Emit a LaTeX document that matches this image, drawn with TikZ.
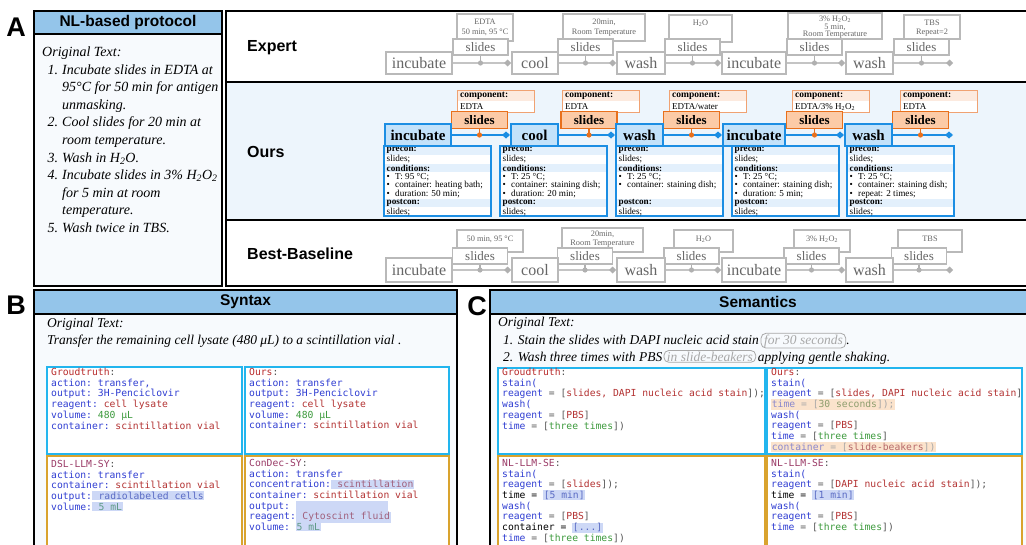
\documentclass[tikz,border=0pt]{standalone}
\usepackage{fontspec}
\setmainfont{Liberation Serif}
\setsansfont{Liberation Sans}
\setmonofont{DejaVu Sans Mono}
\usetikzlibrary{arrows.meta,calc}
\definecolor{hdrblue}{HTML}{94C5EA}
\definecolor{panelbg}{HTML}{F7FAFD}
\definecolor{oursbg}{HTML}{EDF5FC}
\definecolor{gbord}{HTML}{B9B9B9}
\definecolor{gtext}{HTML}{666666}
\definecolor{gline}{HTML}{C4C4C4}
\definecolor{gdot}{HTML}{B0B0B0}
\definecolor{oblue}{HTML}{1C8EE3}
\definecolor{stepfill}{HTML}{C3E2FA}
\definecolor{detrow}{HTML}{E3F0FC}
\definecolor{odark}{HTML}{E8701C}
\definecolor{ofill}{HTML}{FCCBA7}
\definecolor{compline}{HTML}{F0A272}
\definecolor{compfill}{HTML}{FCEADF}
\definecolor{cyanb}{HTML}{22B5EE}
\definecolor{goldb}{HTML}{D9A32E}
\definecolor{ckey}{HTML}{2F3DD2}
\definecolor{cred}{HTML}{B33232}
\definecolor{cgreen}{HTML}{3C9A3C}
\definecolor{clab}{HTML}{B82A2A}
\definecolor{cpur}{HTML}{9A3A66}
\definecolor{cgray}{HTML}{555555}
\definecolor{hlblue}{HTML}{CDD8F6}
\definecolor{hlorange}{HTML}{FBE3CC}
\definecolor{mblue}{HTML}{5A6BC4}
\definecolor{mred}{HTML}{A0607C}
\definecolor{mgreen}{HTML}{5E9A86}
\definecolor{oblueM}{HTML}{8A88CC}
\definecolor{ogreenM}{HTML}{8E9E6E}
\definecolor{oredM}{HTML}{B76A6A}
\definecolor{pillg}{HTML}{A8A8A8}
\newcommand\FSz[2]{\fontsize{#1}{#2}\selectfont}
\newcommand\codefont{\fontsize{9.7}{10.7}\selectfont\ttfamily\lineskiplimit=-20pt\lineskip=0pt\relax}
\newcommand\Ky[1]{\textcolor{ckey}{#1}}
\newcommand\Rd[1]{\textcolor{cred}{#1}}
\newcommand\Gn[1]{\textcolor{cgreen}{#1}}
\newcommand\Lb[1]{\textcolor{clab}{#1}}
\newcommand\Pu[1]{\textcolor{cpur}{#1}}
\newcommand\Gy[1]{\textcolor{cgray}{#1}}
\newcommand\EqB{\Gy{\ = [}}
\newcommand\HLb[1]{{\setlength{\fboxsep}{0.7pt}\colorbox{hlblue}{#1}}}
\newcommand\HLo[1]{{\setlength{\fboxsep}{0.7pt}\colorbox{hlorange}{#1}}}
\newcommand\Bul[1]{\makebox[8.5pt][l]{\textbullet}#1}
\newcommand\DetBox[5]{%
  \fill[white] (#1,146) rectangle ++(107,70);
  \fill[detrow] (#1,146) rectangle ++(107,8.75);
  \fill[detrow] (#1,163.5) rectangle ++(107,8.75);
  \fill[detrow] (#1,198.5) rectangle ++(107,8.75);
  \draw[detbord] (#1,146) rectangle ++(107,70);
  \node[dett] (#2r1) at (#1+2.5,150.6) {\textbf{precon:}};
  \node[dett] (#2r2) at (#1+2.5,159.3) {slides;};
  \node[dett] (#2r3) at (#1+2.5,168.1) {\textbf{conditions:}};
  \node[dett] (#2r4) at (#1+2.5,176.8) {#3};
  \node[dett] (#2r5) at (#1+2.5,185.6) {#4};
  \node[dett] (#2r6) at (#1+2.5,194.3) {#5};
  \node[dett] (#2r7) at (#1+2.5,203.1) {\textbf{postcon:}};
  \node[dett] (#2r8) at (#1+2.5,211.8) {slides;};
}
\newcommand\OComp[3]{% x1, name, value
  \fill[white] (#1,90) rectangle ++(77,22);
  \fill[compfill] (#1,90) rectangle ++(77,11);
  \draw[ocompbox] (#1,90) rectangle ++(77,22);
  \node[anchor=west,inner sep=0pt,font=\bfseries\FSz{9.5}{10}] (#2h) at (#1+3,96) {component:};
  \node[anchor=west,inner sep=0pt,font=\FSz{9}{10}] (#2v) at (#1+3,107) {#3};
}
\newcommand\SDot[3]{% slides node, step node, colour
  \draw[#3,line width=1.2pt] (#1.south) -- (#1.south |- #2.center);
  \fill[#3] (#1.south |- #2.center) circle (2.6pt);
}
\begin{document}
\begin{tikzpicture}[x=1pt,y=-1pt,
  panel/.style={draw=black,line width=1.5pt},
  hdrtext/.style={font=\sffamily\bfseries\FSz{15.5}{18},inner sep=0pt},
  letter/.style={font=\sffamily\bfseries\FSz{27}{30},inner sep=0pt},
  rowlabel/.style={font=\sffamily\bfseries\FSz{16}{18},anchor=west,inner sep=0pt},
  gstep/.style={draw=gbord,line width=1.8pt,fill=white,text=gtext,font=\FSz{16}{18},minimum height=22pt,inner xsep=2pt,inner ysep=0pt},
  gslides/.style={draw=gbord,line width=1.4pt,fill=white,text=gtext,font=\FSz{13}{15},minimum height=16pt,minimum width=55pt,inner sep=0pt},
  gcompbox/.style={draw=gbord,line width=1.3pt,fill=white},
  gcomptxt/.style={text=gtext,font=\FSz{8.3}{9.5},align=center,inner sep=0pt,anchor=north},
  glink/.style={draw=gline,line width=1.4pt,-{Diamond[length=7pt,width=7pt,color=gdot]}},
  ostep/.style={draw=oblue,line width=2pt,fill=stepfill,font=\bfseries\FSz{15}{17},minimum height=22pt,inner xsep=2pt,inner ysep=0pt},
  oslides/.style={draw=odark,line width=1.6pt,fill=ofill,font=\bfseries\FSz{13}{15},minimum height=17pt,minimum width=56pt,inner sep=0pt},
  ocompbox/.style={draw=compline,line width=1pt},
  olink/.style={draw=oblue,line width=1.4pt,-{Diamond[length=8pt,width=7pt]}},
  detbord/.style={draw=oblue,line width=1.1pt},
  dett/.style={anchor=west,inner sep=0pt,font=\FSz{9.2}{9.5}},
  origA/.style={font=\itshape\FSz{14}{17.6},align=left,inner sep=0pt,anchor=north west},
  orig/.style={font=\itshape\FSz{13.5}{17},inner sep=0pt,anchor=base west},
  pill/.style={draw=pillg,line width=0.8pt,rounded corners=5pt,text=pillg,font=\itshape\FSz{13.5}{17},inner xsep=3pt,inner ysep=1.2pt,anchor=base west},
  cyanbox/.style={draw=cyanb,line width=1.5pt,fill=white},
  goldbox/.style={draw=goldb,line width=1.5pt,fill=white},
  codetxt/.style={font=\codefont,align=left,inner sep=0pt,anchor=north west}
]
\useasboundingbox (0,0) rectangle (1026,544);
\clip (0,0) rectangle (1026,544);
\fill[white] (0,0) rectangle (1026,544);

% ---------------- Panel A ----------------
\node[letter] (lA) at (16,27.5) {A};
\draw[panel,fill=panelbg] (34,11) rectangle (222,286);
\draw[panel,fill=hdrblue] (34,11) rectangle (222,34);
\node[hdrtext] (hA) at (128,22.5) {NL-based protocol};
\node[origA] (tA) at (42,46.5) {Original Text:\\
\makebox[16pt][r]{1.}\hspace{4pt}Incubate slides in EDTA at\\
\hspace*{20pt}95°C for 50 min for antigen\\
\hspace*{20pt}unmasking.\\
\makebox[16pt][r]{2.}\hspace{4pt}Cool slides for 20 min at\\
\hspace*{20pt}room temperature.\\
\makebox[16pt][r]{3.}\hspace{4pt}Wash in H\textsubscript{2}O.\\
\makebox[16pt][r]{4.}\hspace{4pt}Incubate slides in 3\% H\textsubscript{2}O\textsubscript{2}\\
\hspace*{20pt}for 5 min at room\\
\hspace*{20pt}temperature.\\
\makebox[16pt][r]{5.}\hspace{4pt}Wash twice in TBS.};

% right framed area
\fill[white] (226,11) rectangle (1028,286);
\fill[oursbg] (226,82) rectangle (1028,220);
\draw[panel] (226,11) rectangle (1028,286);
\draw[panel] (226,82) -- (1028,82);
\draw[panel] (226,220) -- (1028,220);
\node[rowlabel] (lExp) at (247,48) {Expert};
\node[rowlabel] (lOurs) at (247,152) {Ours};
\node[rowlabel] (lBB) at (247,254) {Best-Baseline};

% ---------------- Expert row ----------------
\draw[gcompbox] (457,14) rectangle (513,41);
\node[gcomptxt] (ec1) at (485,19) {EDTA\\50 min, 95 °C};
\draw[gcompbox] (563,14) rectangle (645,41);
\node[gcomptxt] (ec2) at (604,19) {20min,\\Room Temperature};
\draw[gcompbox] (669,15) rectangle (732,42);
\node[gcomptxt] (ec3) at (700.5,19.5) {H\textsubscript{2}O};
\draw[gcompbox] (788,13) rectangle (882,39);
\node[gcomptxt,font=\FSz{8.3}{7.3}] (ec4) at (835,16) {3\% H\textsubscript{2}O\textsubscript{2}\\5 min,\\Room Temperature};
\draw[gcompbox] (904,15) rectangle (960,39);
\node[gcomptxt] (ec5) at (932,19.5) {TBS\\Repeat=2};

\node[gslides] (es1) at (480.5,47) {slides};
\node[gslides] (es2) at (585.5,47) {slides};
\node[gslides] (es3) at (692.5,47) {slides};
\node[gslides] (es4) at (814.5,47) {slides};
\node[gslides] (es5) at (921.5,47) {slides};

\node[gstep,minimum width=66pt] (e1) at (419,63) {incubate};
\node[gstep,minimum width=46pt] (e2) at (535,63) {cool};
\node[gstep,minimum width=48pt] (e3) at (641,63) {wash};
\node[gstep,minimum width=64pt] (e4) at (754,63) {incubate};
\node[gstep,minimum width=47pt] (e5) at (869.5,63) {wash};
\coordinate (eend) at (953,63);
\draw[glink] (e1) -- (e2);
\draw[glink] (e2) -- (e3);
\draw[glink] (e3) -- (e4);
\draw[glink] (e4) -- (e5);
\draw[glink] (e5) -- (eend);
\SDot{es1}{e1}{gdot}
\SDot{es2}{e1}{gdot}
\SDot{es3}{e1}{gdot}
\SDot{es4}{e1}{gdot}
\SDot{es5}{e1}{gdot}

% ---------------- Ours row ----------------
\OComp{457}{oc1}{EDTA}
\OComp{562}{oc2}{EDTA}
\OComp{669}{oc3}{EDTA/water}
\OComp{792}{oc4}{EDTA/3\% H\textsubscript{2}O\textsubscript{2}}
\OComp{900}{oc5}{EDTA}

\node[oslides] (os1) at (479.5,120) {slides};
\node[oslides] (os2) at (589,120) {slides};
\node[oslides] (os3) at (691.5,120) {slides};
\node[oslides] (os4) at (814.5,120) {slides};
\node[oslides] (os5) at (920.5,120) {slides};

\DetBox{384}{d1}{\Bul{T: 95 °C;}}{\Bul{container: heating bath;}}{\Bul{duration: 50 min;}}
\DetBox{500}{d2}{\Bul{T: 25 °C;}}{\Bul{container: staining dish;}}{\Bul{duration: 20 min;}}
\DetBox{616}{d3}{\Bul{T: 25 °C;}}{\Bul{container: staining dish;}}{}
\DetBox{732}{d4}{\Bul{T: 25 °C;}}{\Bul{container: staining dish;}}{\Bul{duration: 5 min;}}
\DetBox{847}{d5}{\Bul{T: 25 °C;}}{\Bul{container: staining dish;}}{\Bul{repeat: 2 times;}}

\node[ostep,minimum width=66pt] (o1) at (418,135) {incubate};
\node[ostep,minimum width=47pt] (o2) at (534.5,135) {cool};
\node[ostep,minimum width=47pt] (o3) at (639.5,135) {wash};
\node[ostep,minimum width=62pt] (o4) at (754,135) {incubate};
\node[ostep,minimum width=47pt] (o5) at (868.5,135) {wash};
\coordinate (oend) at (953,135);
\draw[olink] (o1) -- (o2);
\draw[olink] (o2) -- (o3);
\draw[olink] (o3) -- (o4);
\draw[olink] (o4) -- (o5);
\draw[olink] (o5) -- (oend);
\SDot{os1}{o1}{odark}
\SDot{os2}{o1}{odark}
\SDot{os3}{o1}{odark}
\SDot{os4}{o1}{odark}
\SDot{os5}{o1}{odark}

% ---------------- Best-Baseline row ----------------
\draw[gcompbox] (457,230) rectangle (523,252);
\node[gcomptxt] (bc1) at (490,235.5) {50 min, 95 °C};
\draw[gcompbox] (562,228) rectangle (643,252);
\node[gcomptxt] (bc2) at (602.5,230.5) {20min,\\Room Temperature};
\draw[gcompbox] (674,230) rectangle (733,252);
\node[gcomptxt] (bc3) at (703.5,235.5) {H\textsubscript{2}O};
\draw[gcompbox] (794,230) rectangle (850,252);
\node[gcomptxt] (bc4) at (822,235.5) {3\% H\textsubscript{2}O\textsubscript{2}};
\draw[gcompbox] (898,230) rectangle (962,252);
\node[gcomptxt] (bc5) at (930,235.5) {TBS};

\node[gslides] (bs1) at (480,256) {slides};
\node[gslides] (bs2) at (585,256) {slides};
\node[gslides] (bs3) at (691.5,256) {slides};
\node[gslides] (bs4) at (811.5,256) {slides};
\node[gslides] (bs5) at (919,256) {slides};

\node[gstep,minimum width=66pt,minimum height=24pt] (b1) at (419,270) {incubate};
\node[gstep,minimum width=46pt,minimum height=24pt] (b2) at (535,270) {cool};
\node[gstep,minimum width=48pt,minimum height=24pt] (b3) at (641,270) {wash};
\node[gstep,minimum width=64pt,minimum height=24pt] (b4) at (754,270) {incubate};
\node[gstep,minimum width=47pt,minimum height=24pt] (b5) at (869.5,270) {wash};
\coordinate (bend) at (953,270);
\draw[glink] (b1) -- (b2);
\draw[glink] (b2) -- (b3);
\draw[glink] (b3) -- (b4);
\draw[glink] (b4) -- (b5);
\draw[glink] (b5) -- (bend);
\SDot{bs1}{b1}{gdot}
\SDot{bs2}{b1}{gdot}
\SDot{bs3}{b1}{gdot}
\SDot{bs4}{b1}{gdot}
\SDot{bs5}{b1}{gdot}

% ---------------- Panel B ----------------
\node[letter] (lB) at (16,305) {B};
\draw[panel,fill=panelbg] (34,290) rectangle (457,550);
\draw[panel,fill=hdrblue] (34,290) rectangle (457,314);
\node[hdrtext] (hB) at (245.5,302) {Syntax};
\node[orig] (tB1) at (47,327) {Original Text:};
\node[orig] (tB2) at (47,344) {Transfer the remaining cell lysate (480 μL) to a scintillation vial .};
\draw[cyanbox] (47,367) rectangle (242,454);
\draw[cyanbox] (245,367) rectangle (449,454);
\draw[goldbox] (47,456) rectangle (242,550);
\draw[goldbox] (245,456) rectangle (449,550);
\node[codetxt] (bgt) at (51,368) {\Lb{Groudtruth}\Gy{:}\\
\Ky{action: transfer,}\\
\Ky{output: 3H-Penciclovir}\\
\Ky{reagent:} \Rd{cell lysate}\\
\Ky{volume:} \Gn{480 μL}\\
\Ky{container:} \Rd{scintillation vial}};
\node[codetxt] (bours) at (249,368) {\Lb{Ours}\Gy{:}\\
\Ky{action: transfer}\\
\Ky{output: 3H-Penciclovir}\\
\Ky{reagent:} \Rd{cell lysate}\\
\Ky{volume:} \Gn{480 μL}\\
\Ky{container:} \Rd{scintillation vial}};
\node[codetxt] (bdsl) at (51,460) {\Pu{DSL-LLM-SY}\Gy{:}\\
\Ky{action: transfer}\\
\Ky{container:} \Rd{scintillation vial}\\
\Ky{output:}\HLb{\ \textcolor{mblue}{radiolabeled cells}}\\
\Ky{volume:}\HLb{\ \textcolor{mgreen}{5 mL}}};
\node[codetxt] (bcon) at (249,459) {\Pu{ConDec-SY}\Gy{:}\\
\Ky{action: transfer}\\
\Ky{concentration:}\HLb{\ \textcolor{mred}{scintillation}}\\
\Ky{container:} \Rd{scintillation vial}\\
\Ky{output:} \HLb{\vphantom{Ag}\hspace*{91pt}}\\
\Ky{reagent:}\HLb{\ \textcolor{mred}{Cytoscint fluid}}\\
\Ky{volume:} \HLb{\textcolor{mgreen}{5 mL}}};

% ---------------- Panel C ----------------
\node[letter] (lC) at (477,306) {C};
\draw[panel,fill=panelbg] (490,290) rectangle (1028,550);
\draw[panel,fill=hdrblue] (490,290) rectangle (1028,314);
\node[hdrtext] (hC) at (758,302) {Semantics};
\node[orig] (tC0) at (498,326) {Original Text:};
\node[orig] (tC1a) at (503,344) {1. Stain the slides with DAPI nucleic acid stain};
\node[pill] (tC1b) at ($(tC1a.base east)+(1.5,0)$) {for 30 seconds};
\node[orig] (tC1c) at (tC1b.base east) {.};
\node[orig] (tC2a) at (503,361) {2. Wash three times with PBS};
\node[pill] (tC2b) at ($(tC2a.base east)+(1,0)$) {in slide-beakers};
\node[orig] (tC2c) at ($(tC2b.base east)+(1.5,0)$) {applying gentle shaking.};
\draw[cyanbox] (498,368) rectangle (765,454);
\draw[cyanbox] (767,368) rectangle (1022,454);
\draw[goldbox] (498,456) rectangle (765,550);
\draw[goldbox] (767,456) rectangle (1022,550);
\node[codetxt] (cgt) at (502,368) {\Lb{Groudtruth}\Gy{:}\\
\Ky{stain(}\\
\Ky{reagent}\EqB\Rd{slides, DAPI nucleic acid stain}\Gy{]);}\\
\Ky{wash(}\\
\Ky{reagent}\EqB\Rd{PBS}\Gy{]}\\
\Ky{time}\EqB\Gn{three times}\Gy{])}};
\node[codetxt] (cours) at (771,368) {\Lb{Ours}\Gy{:}\\
\Ky{stain(}\\
\Ky{reagent}\EqB\Rd{slides, DAPI nucleic acid stain}\Gy{]}\\
\HLo{\textcolor{oblueM}{time}\textcolor{pillg}{\ = [}\textcolor{ogreenM}{30 seconds}\textcolor{pillg}{]);}}\\
\Ky{wash(}\\
\Ky{reagent}\EqB\Rd{PBS}\Gy{]}\\
\Ky{time}\EqB\Gn{three times}\Gy{]}\\
\HLo{\textcolor{oblueM}{container}\textcolor{pillg}{\ = [}\textcolor{oredM}{slide-beakers}\textcolor{pillg}{])}}};
\node[codetxt] (cnl1) at (502,459) {\Pu{NL-LLM-SE}\Gy{:}\\
\Ky{stain(}\\
\Ky{reagent}\EqB\Rd{slides}\Gy{]);}\\
time = \HLb{\textcolor{mblue}{[5 min]}}\\
\Ky{wash(}\\
\Ky{reagent}\EqB\Rd{PBS}\Gy{]}\\
container = \HLb{\textcolor{mblue}{[...]}}\\
\Ky{time}\EqB\Gn{three times}\Gy{])}};
\node[codetxt] (cnl2) at (771,459) {\Pu{NL-LLM-SE}\Gy{:}\\
\Ky{stain(}\\
\Ky{reagent}\EqB\Rd{DAPI nucleic acid stain}\Gy{]);}\\
time = \HLb{\textcolor{mblue}{[1 min]}}\\
\Ky{wash(}\\
\Ky{reagent}\EqB\Rd{PBS}\Gy{]}\\
\Ky{time}\EqB\Gn{three times}\Gy{])}};
\end{tikzpicture}
\end{document}
